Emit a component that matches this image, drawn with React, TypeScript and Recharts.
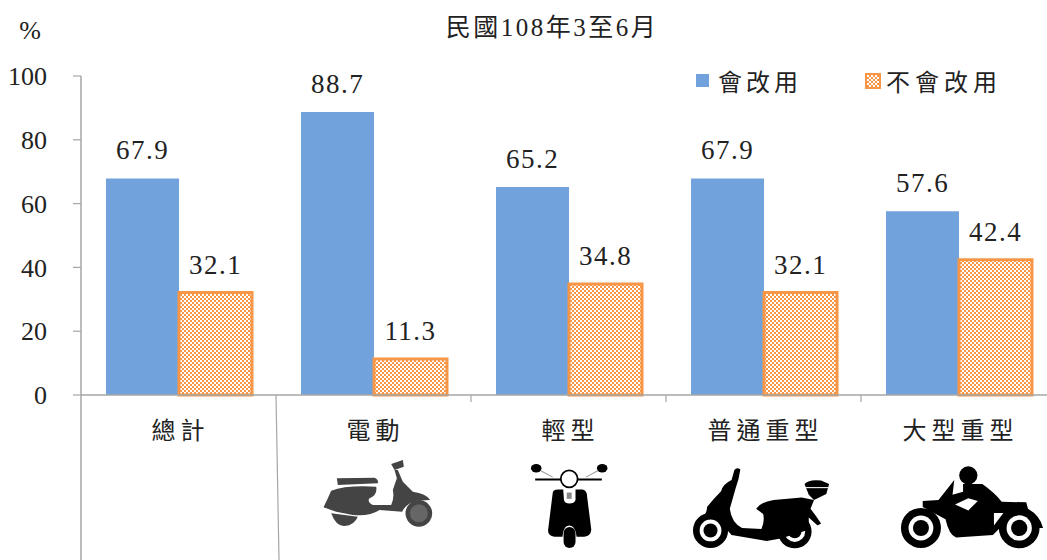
import { BarChart, Bar, XAxis, YAxis, LabelList, Legend } from "recharts";

const categories = ["總計", "電動", "輕型", "普通重型", "大型重型"];
const willSwitch = [67.9, 88.7, 65.2, 67.9, 57.6];
const wontSwitch = [32.1, 11.3, 34.8, 32.1, 42.4];
const yTicks = [0, 20, 40, 60, 80, 100];
const seriesNames = ["會改用", "不會改用"];

const data = categories.map((name, i) => ({
  name,
  will: willSwitch[i],
  wont: wontSwitch[i],
}));

const FONT = '"Liberation Serif", "Noto Sans CJK TC", serif';
const BLUE = "#71A2DB";
const ORANGE = "#F79646";
const AXIS = "#A6A6A6";
const TEXT = "#222";
const AXIS_Y = 395;
const BAND = 195;

function Wheel({ cx, cy, r }: { cx: number; cy: number; r: number }) {
  return (
    <g>
      <circle cx={cx} cy={cy} r={r} fill="#000" />
      <circle cx={cx} cy={cy} r={r * 0.62} fill="#fff" />
      <circle cx={cx} cy={cy} r={r * 0.4} fill="#000" />
    </g>
  );
}

// silhouettes are traced in zoomed-crop units, then scaled down to page pixels
function ElectricIcon({ x }: { x: number }) {
  return (
    <g transform={`translate(${x},${AXIS_Y}) scale(${1 / 3}) translate(-942,-75)`} fill="#444">
      <path d="M832 325 L945 323 Q958 328 955 340 L835 345 Z" />
      <path d="M815 362 Q860 345 950 350 Q955 375 930 385 Q922 395 940 405 L995 405 Q1005 385 1000 360 L1012 325 L1005 300 L1015 300 L1030 335 L1060 365 Q1100 370 1112 390 L1070 392 Q1040 400 1028 425 L960 420 Q930 440 880 435 L830 425 L792 412 L805 385 Z" />
      <path d="M995 282 L1030 270 L1033 290 L1005 300 Z" />
      <circle cx={1078} cy={430} r={40} />
      <circle cx={1078} cy={430} r={27} fill="#666" />
      <path d="M815 430 Q830 470 855 468 Q885 465 895 440 Z" />
    </g>
  );
}

function LightIcon({ x }: { x: number }) {
  return (
    <g transform={`translate(${x},${AXIS_Y}) scale(${1 / 2.85}) translate(-195,14)`}>
      <line x1={112} y1={200} x2={150} y2={220} stroke="#999" strokeWidth={3} />
      <line x1={282} y1={200} x2={245} y2={220} stroke="#999" strokeWidth={3} />
      <ellipse cx={103} cy={195} rx={15} ry={12} />
      <ellipse cx={291} cy={195} rx={15} ry={12} />
      <line x1={100} y1={227} x2={290} y2={227} stroke="#000" strokeWidth={6} />
      <circle cx={197} cy={225} r={24} fill="#fff" stroke="#000" strokeWidth={5} />
      <path d="M150 265 Q150 255 165 255 L180 255 L182 285 Q185 295 197 295 Q212 295 215 285 L215 255 L235 255 Q248 258 248 275 L260 370 Q258 388 240 390 L218 390 Q215 358 197 358 Q180 358 178 390 L155 390 Q135 388 137 370 Z" />
      <rect x={181} y={362} width={34} height={60} rx={17} />
      <rect x={190} y={264} width={14} height={18} fill="#888" />
    </g>
  );
}

function StandardIcon({ x }: { x: number }) {
  return (
    <g transform={`translate(${x},${AXIS_Y}) scale(${1 / 2.85}) translate(-751,14)`}>
      <Wheel cx={600} cy={372} r={50} />
      <Wheel cx={840} cy={375} r={48} />
      <path d="M575 335 Q590 325 590 305 Q610 280 630 260 Q635 240 660 228 L668 200 Q675 190 685 198 L680 225 L672 250 L655 310 Q660 350 690 365 L745 368 Q755 345 750 325 L730 310 Q745 290 780 285 L860 278 L895 285 L885 310 L900 330 L915 352 L905 358 L880 335 L880 370 L800 395 L760 402 L660 385 L620 340 Z" />
      <path d="M868 240 Q880 226 915 230 L938 240 L930 268 L895 285 L880 270 Z" />
      <line x1={872} y1={250} x2={935} y2={250} stroke="#fff" strokeWidth={3} />
    </g>
  );
}

function HeavyIcon({ x }: { x: number }) {
  return (
    <g transform={`translate(${x},${AXIS_Y}) scale(${1 / 2.85}) translate(-1307,14)`}>
      <Wheel cx={1200} cy={365} r={57} />
      <Wheel cx={1480} cy={365} r={58} />
      <circle cx={1335} cy={215} r={26} />
      <path d="M1320 240 L1375 240 Q1410 265 1430 290 L1500 292 L1505 310 Q1540 330 1548 365 L1535 365 Q1525 325 1480 318 Q1440 320 1425 365 L1405 385 L1300 392 Q1280 385 1270 340 L1205 305 L1205 288 L1250 285 L1295 228 L1290 270 L1320 262 Z" />
      <path d="M1297 298 L1335 280 L1362 288 L1335 315 Z" fill="#fff" />
      <path d="M1408 322 L1435 322 L1408 358 Z" fill="#fff" />
    </g>
  );
}

const icons: Record<string, (p: { x: number }) => any> = {
  電動: ElectricIcon,
  輕型: LightIcon,
  普通重型: StandardIcon,
  大型重型: HeavyIcon,
};

function CategoryTick({ x, payload, index }: any) {
  const Icon = icons[payload.value];
  const right = x + BAND / 2;
  return (
    <g>
      {index === 0 && <line x1={x - BAND / 2} y1={AXIS_Y} x2={x - BAND / 2} y2={560} stroke={AXIS} strokeWidth={1.5} />}
      {index === 0 ? (
        <line x1={right} y1={AXIS_Y} x2={right + 3} y2={560} stroke={AXIS} strokeWidth={1.2} />
      ) : (
        <line x1={right} y1={AXIS_Y} x2={right} y2={AXIS_Y + 7} stroke={AXIS} strokeWidth={1.2} />
      )}
      <text x={x + 2} y={439} textAnchor="middle" fontFamily={FONT} fontSize={24} letterSpacing={5} fill={TEXT}>
        {payload.value}
      </text>
      {Icon && <Icon x={x} />}
    </g>
  );
}

function LegendBox() {
  return (
    <div style={{ position: "relative", height: 34, fontFamily: FONT, fontSize: 24, letterSpacing: 4, color: TEXT }}>
      <span style={{ position: "absolute", left: 0, top: 11, width: 13, height: 13, background: BLUE }} />
      <span style={{ position: "absolute", left: 22, top: 0, whiteSpace: "nowrap" }}>{seriesNames[0]}</span>
      <svg style={{ position: "absolute", left: 169, top: 10 }} width={16} height={16}>
        <rect x={1} y={1} width={14} height={14} fill="url(#check)" stroke={ORANGE} strokeWidth={2} />
      </svg>
      <span style={{ position: "absolute", left: 190, top: 0, whiteSpace: "nowrap", letterSpacing: 5 }}>{seriesNames[1]}</span>
    </div>
  );
}

export default function App() {
  return (
    <div style={{ position: "absolute", left: 0, top: 0, width: 1047, height: 560, overflow: "hidden", background: "#fff" }}>
      <BarChart
        width={1056}
        height={560}
        data={data}
        margin={{ top: 76, right: 0, bottom: 0, left: 0 }}
        barSize={73}
        barGap={0}
      >
        <defs>
          <pattern id="check" width={4} height={4} patternUnits="userSpaceOnUse">
            <rect width={4} height={4} fill={ORANGE} />
            <rect width={2} height={2} fill="#fff" />
            <rect x={2} y={2} width={2} height={2} fill="#fff" />
          </pattern>
        </defs>
        <text x={552} y={36} textAnchor="middle" fontFamily={FONT} fontSize={25} letterSpacing={2.5} fill={TEXT}>
          民國108年3至6月
        </text>
        <text x={30} y={39} textAnchor="middle" fontFamily={FONT} fontSize={26} fill={TEXT}>
          %
        </text>
        <XAxis
          dataKey="name"
          interval={0}
          height={131}
          axisLine={{ stroke: AXIS, strokeWidth: 1.5 }}
          tickLine={false}
          tick={<CategoryTick />}
        />
        <YAxis
          domain={[0, 100]}
          ticks={yTicks}
          width={81}
          tickSize={8}
          tickMargin={26}
          axisLine={{ stroke: AXIS, strokeWidth: 1.5 }}
          tickLine={{ stroke: AXIS, strokeWidth: 1.2 }}
          tick={{ fontFamily: FONT, fontSize: 26, fill: TEXT }}
        />
        <Legend
          content={<LegendBox />}
          wrapperStyle={{ position: "absolute", left: 696, top: 63, width: 320, height: 34 }}
        />
        <Bar dataKey="will" fill={BLUE} isAnimationActive={false}>
          <LabelList dataKey="will" position="top" offset={19} fontFamily={FONT} fontSize={27} letterSpacing={1.5} fill={TEXT} />
        </Bar>
        <Bar dataKey="wont" fill="url(#check)" stroke={ORANGE} strokeWidth={3} isAnimationActive={false}>
          <LabelList dataKey="wont" position="top" offset={19} fontFamily={FONT} fontSize={27} letterSpacing={1.5} fill={TEXT} />
        </Bar>
      </BarChart>
    </div>
  );
}
